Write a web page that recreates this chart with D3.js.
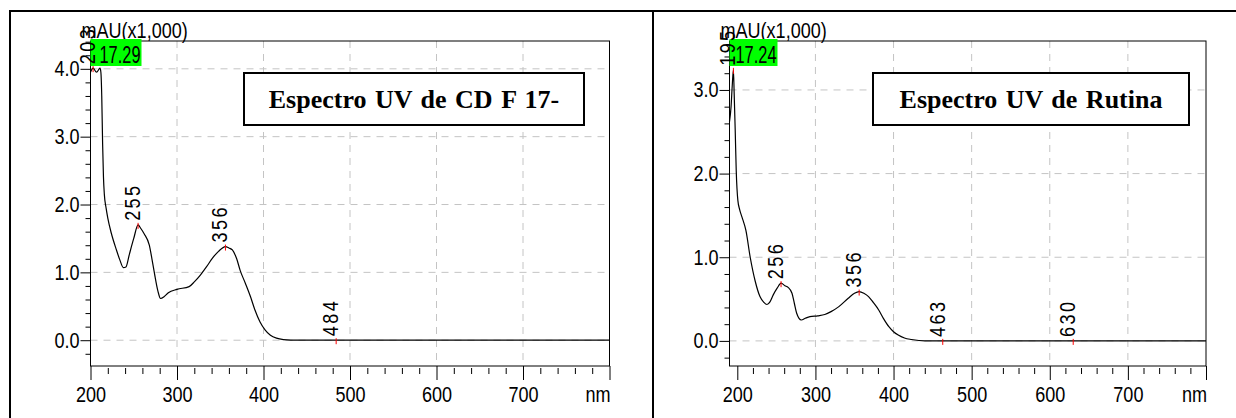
<!DOCTYPE html>
<html>
<head>
<meta charset="utf-8">
<script src="https://cdn.jsdelivr.net/npm/d3@7"></script>
<style>
body { margin: 0; background: #fff; }
svg text { font-family: "Liberation Sans Narrow", "Arial Narrow", "Liberation Sans", Arial, sans-serif; }
</style>
</head>
<body>
<svg id="chart" width="1236" height="418"></svg>
<script>
// tick labels
var xTicks = [200, 300, 400, 500, 600, 700, 800];
var leftYTicks = [0, 1, 2, 3, 4];
var rightYTicks = [0, 1, 2, 3];

// left spectrum (CD F 17-)
var leftWl = [200, 203, 207, 211, 212, 213, 214, 215, 216, 218, 220, 224, 230, 234, 238, 241, 245, 250, 255, 258, 262, 268, 271, 274, 278, 281, 285, 290, 300, 314, 320, 327, 334, 341, 348, 356, 360, 364, 369, 373, 379, 385, 390, 396, 402, 408, 415, 423, 440, 484, 600, 800];
var leftAbs = [3.95, 4.01, 3.95, 4.01, 3.95, 3.6, 2.9, 2.4, 2.15, 1.95, 1.8, 1.58, 1.33, 1.18, 1.07, 1.08, 1.27, 1.5, 1.70, 1.65, 1.57, 1.40, 1.2, 0.98, 0.72, 0.615, 0.64, 0.7, 0.75, 0.79, 0.86, 0.96, 1.08, 1.21, 1.31, 1.38, 1.36, 1.33, 1.2, 1.03, 0.84, 0.64, 0.45, 0.27, 0.15, 0.074, 0.03, 0.01, 0.0, 0.0, 0.0, 0.0];
var leftPeaks = [203, 255, 356, 484];
var leftTitle = 'Espectro UV de CD F 17-';
var leftTime = '17.29';

// right spectrum (Rutina)
var rightWl = [190, 192, 193.5, 195, 196, 197.3, 198.6, 200.7, 203, 206, 211, 216.5, 223, 229, 234, 238, 242, 246, 251, 256, 261, 265, 270, 273, 276, 279, 282, 287, 293, 303, 312, 320, 330, 342, 350, 356, 362, 368, 374, 381, 387, 394, 400, 406, 414, 423, 440, 463, 630, 800];
var rightAbs = [2.62, 2.80, 3.05, 3.24, 2.95, 2.52, 2.04, 1.68, 1.57, 1.48, 1.32, 1.0, 0.71, 0.53, 0.46, 0.435, 0.47, 0.55, 0.63, 0.69, 0.66, 0.64, 0.57, 0.45, 0.33, 0.27, 0.25, 0.27, 0.29, 0.30, 0.315, 0.35, 0.41, 0.51, 0.57, 0.59, 0.57, 0.53, 0.46, 0.37, 0.27, 0.17, 0.11, 0.07, 0.035, 0.017, 0.0, 0.0, 0.0, 0.0];
var rightPeaks = [195, 256, 356, 463, 630];
var rightTitle = 'Espectro UV de Rutina';
var rightTime = '17.24';

var svg = d3.select('#chart');

// table frame
svg.append('line').attr('x1', 9).attr('x2', 1236).attr('y1', 11).attr('y2', 11).attr('stroke', '#000').attr('stroke-width', 2);
svg.append('line').attr('x1', 10).attr('x2', 10).attr('y1', 10).attr('y2', 418).attr('stroke', '#000').attr('stroke-width', 2);
svg.append('line').attr('x1', 653).attr('x2', 653).attr('y1', 10).attr('y2', 418).attr('stroke', '#000').attr('stroke-width', 2);

function valueAt(wl, ab, w) {
	var i = d3.bisectLeft(wl, w);
	if (i <= 0) return ab[0];
	if (i >= wl.length) return ab[ab.length - 1];
	if (wl[i] === w) return ab[i];
	var t = (w - wl[i - 1]) / (wl[i] - wl[i - 1]);
	return ab[i - 1] + t * (ab[i] - ab[i - 1]);
}

function drawPanel(p) {
	var x = d3.scaleLinear().domain(p.xDomain).range([p.left, p.right]);
	var y = d3.scaleLinear().domain(p.yDomain).range([366, 41]);
	var g = svg.append('g');

	// grid
	g.selectAll('.vgrid').data(xTicks.slice(1, -1)).enter().append('line')
		.attr('x1', d => x(d)).attr('x2', d => x(d)).attr('y1', 41).attr('y2', 366)
		.attr('stroke', '#c4c4c4').attr('stroke-dasharray', '7,6');
	g.selectAll('.hgrid').data(p.yTicks).enter().append('line')
		.attr('x1', p.left).attr('x2', p.right).attr('y1', d => y(d)).attr('y2', d => y(d))
		.attr('stroke', '#c4c4c4').attr('stroke-dasharray', '7,6');

	// x axis
	var minorX = d3.range(200, 801, 20).filter(d => d % 100 !== 0);
	var xMinor = g.append('g').attr('transform', 'translate(0,368)')
		.call(d3.axisBottom(x).tickValues(minorX).tickSize(6).tickFormat(''));
	var xMajor = g.append('g').attr('transform', 'translate(0,366)')
		.call(d3.axisBottom(x).tickValues(xTicks).tickSize(14).tickPadding(6)
			.tickFormat(d => d === 800 ? '' : d));
	[xMinor, xMajor].forEach(function (a) { a.select('.domain').remove(); });
	xMajor.selectAll('text').attr('class', 'narrow').attr('font-size', 22).attr('fill', '#000').style('font-family', null);
	g.selectAll('.tick line').attr('stroke', '#000');
	g.append('text').attr('class', 'narrow').attr('x', p.right + 1).attr('y', 402).attr('text-anchor', 'end')
		.attr('font-size', 22).text('nm');

	// y axis
	var minorY = d3.range(-5, 23).map(i => i * 0.2)
		.filter((d, i) => (i % 5) !== 0 && d > p.yDomain[0] && d < p.yDomain[1]);
	var yMinor = g.append('g').attr('transform', 'translate(' + p.left + ',0)')
		.call(d3.axisLeft(y).tickValues(minorY).tickSize(5).tickFormat(''));
	var yMajor = g.append('g').attr('transform', 'translate(' + p.left + ',0)')
		.call(d3.axisLeft(y).tickValues(p.yTicks).tickSize(10).tickPadding(1).tickFormat(d3.format('.1f')));
	[yMinor, yMajor].forEach(function (a) { a.select('.domain').remove(); a.selectAll('line').attr('stroke', '#000'); });
	yMajor.selectAll('text').attr('class', 'narrow').attr('font-size', 22).attr('fill', '#000').style('font-family', null);

	// frame
	g.append('rect').attr('x', p.left).attr('y', 41).attr('width', p.right - p.left).attr('height', 325)
		.attr('fill', 'none').attr('stroke', '#000').attr('stroke-width', 1);

	// title box
	g.append('rect').attr('x', p.boxX).attr('y', 73).attr('width', p.boxW).attr('height', 52)
		.attr('fill', '#fff').attr('stroke', '#000').attr('stroke-width', 2);
	g.append('text').attr('x', p.boxX + p.boxW / 2).attr('y', 108).attr('text-anchor', 'middle')
		.style('font-family', '"Liberation Serif", "Times New Roman", serif').attr('font-weight', 'bold')
		.attr('font-size', 26).style('word-spacing', '2px').text(p.title);

	// spectrum
	var line = d3.line().x((d, i) => x(p.wl[i])).y(d => y(d)).curve(d3.curveMonotoneX);
	g.append('path').datum(p.ab).attr('d', line).attr('fill', 'none').attr('stroke', '#000').attr('stroke-width', 1.2);

	// y axis label
	g.append('text').attr('class', 'narrow').attr('x', p.left - 9).attr('y', 38).attr('font-size', 22).text('mAU(x1,000)');

	// retention time box
	g.append('rect').attr('x', p.left).attr('y', 39).attr('width', p.timeW).attr('height', 27).attr('fill', '#00ff00');
	g.append('text').attr('x', p.left + p.timeW - 1).attr('y', 63).attr('text-anchor', 'end')
		.attr('font-size', 23).attr('textLength', 41).attr('lengthAdjust', 'spacingAndGlyphs').text(p.time);

	// peaks
	p.peaks.forEach(function (pk) {
		var px = x(pk), py = y(valueAt(p.wl, p.ab, pk));
		g.append('line').attr('x1', px).attr('x2', px).attr('y1', py - 2).attr('y2', py + 4)
			.attr('stroke', '#ff0000').attr('stroke-width', 1);
		g.append('text').attr('class', 'narrow').attr('transform', 'translate(' + (px + 2) + ',' + (py - 4) + ') rotate(-90)')
			.attr('font-size', 22).style('letter-spacing', '3px').text(pk);
	});
}

drawPanel({
	left: 90.5, right: 609.5, xDomain: [200, 800], yDomain: [-0.38, 4.41], yTicks: leftYTicks,
	wl: leftWl, ab: leftAbs, peaks: leftPeaks, title: leftTitle, time: leftTime,
	boxX: 244, boxW: 340, timeW: 51
});
drawPanel({
	left: 729.5, right: 1206, xDomain: [190, 800], yDomain: [-0.30, 3.585], yTicks: rightYTicks,
	wl: rightWl, ab: rightAbs, peaks: rightPeaks, title: rightTitle, time: rightTime,
	boxX: 873, boxW: 316, timeW: 48
});

// squeeze the sans labels to the narrow look of the original
svg.selectAll('text.narrow').each(function () {
	var w = this.getComputedTextLength();
	if (w > 0) d3.select(this).attr('textLength', w * 0.82).attr('lengthAdjust', 'spacingAndGlyphs');
});
</script>
</body>
</html>
